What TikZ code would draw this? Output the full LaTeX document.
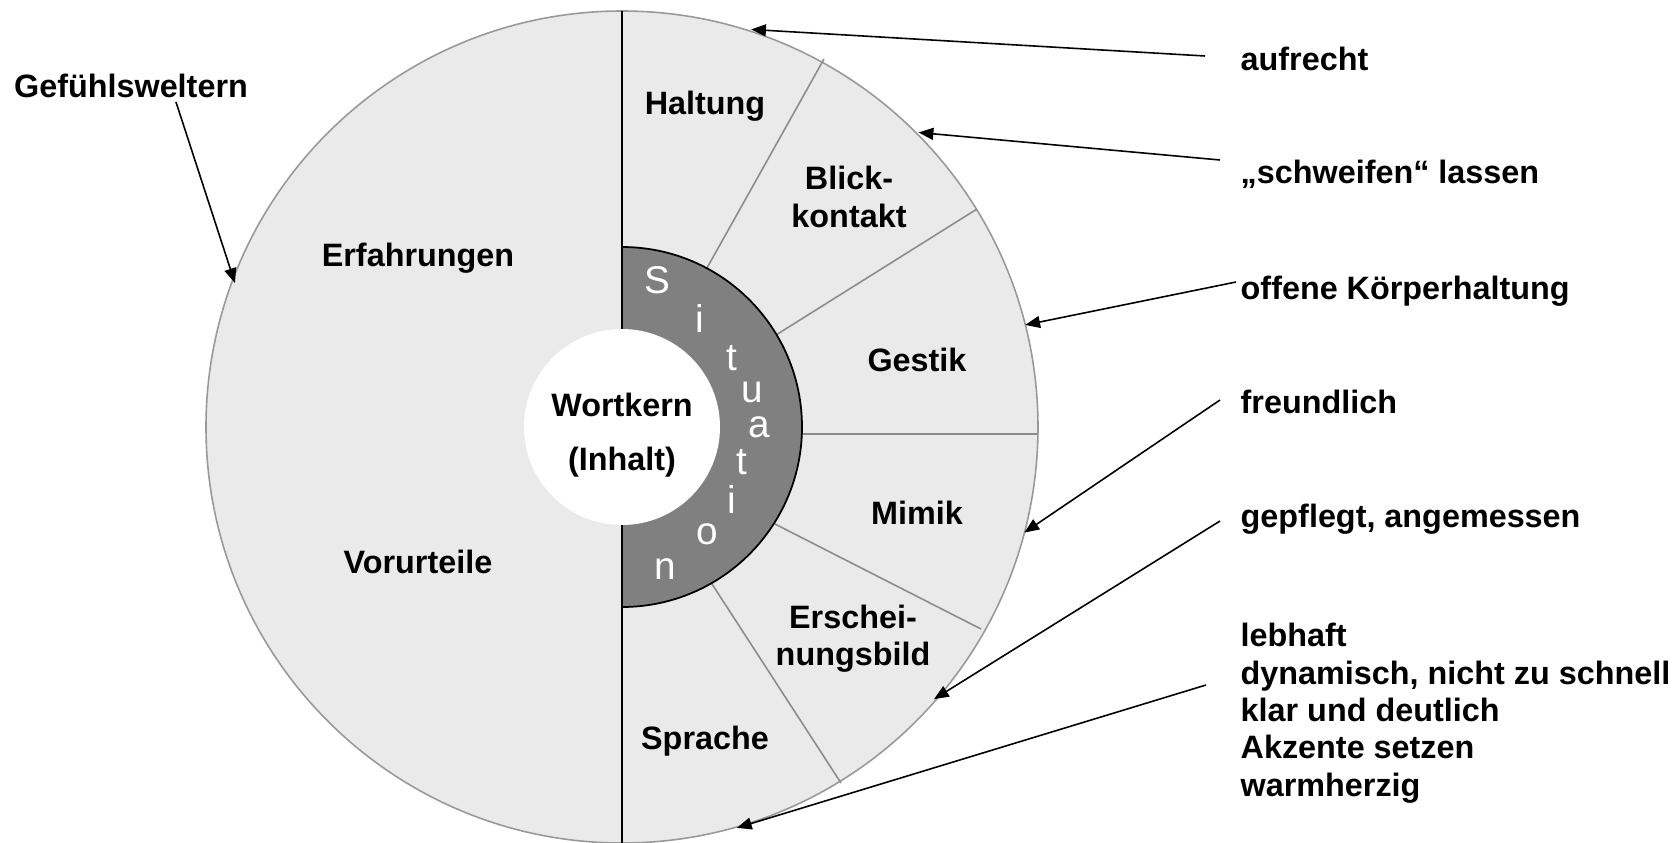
\documentclass[tikz,border=0pt]{standalone}
\usepackage{fontspec}
\setmainfont{Liberation Sans}
\usepackage{tikz}
\usetikzlibrary{arrows.meta}
\definecolor{ringfill}{HTML}{EAEAEA}
\definecolor{ringline}{HTML}{999999}
\definecolor{sitfill}{HTML}{808080}
\definecolor{spokeline}{HTML}{8C8C8C}

\begin{document}
\begin{tikzpicture}[x=0.01cm, y=0.01cm,
  lbl/.style={font=\fontsize{9.2}{10.6}\selectfont\bfseries, inner sep=0pt, align=center},
  note/.style={lbl, anchor=base west, align=left},
  sit/.style={font=\fontsize{11}{12}\selectfont, text=white, inner sep=0pt, anchor=base},
  arr/.style={-{Triangle[length=4.2pt, width=3.4pt]}, line width=0.45pt},
  spoke/.style={draw=spokeline, line width=0.45pt}]
\useasboundingbox (-622,427) rectangle (1051,-415);

% outer ring
\draw[ringline, fill=ringfill, line width=0.45pt] (0,0) circle (416);

% spokes of the right half
\draw[spoke] (85,159) -- (202,368);
\draw[spoke] (154,92) -- (355,218);
\draw[spoke] (178,-7) -- (416,-7);
\draw[spoke] (151,-96) -- (359,-202);
\draw[spoke] (90,-157) -- (219,-356);

% middle line
\draw[line width=0.6pt] (0,416) -- (0,-416);

% Situation half ring
\filldraw[fill=sitfill, draw=black, line width=0.5pt] (0,180) arc (90:-90:180) -- cycle;
\foreach \ch/\x/\y [count=\k] in {S/35/134, i/78/95, t/110/57, u/130/25, a/137/-10,
    t/120/-47, i/110/-86, o/85/-117, n/43/-152}
  \node[sit] (sit\k) at (\x,\y) {\ch};

% core
\fill[white] (0,0) circle (98);
\node[lbl] (wort) at (0,22) {Wortkern};
\node[lbl] (inhalt) at (0,-35) {(Inhalt)};

% left half
\node[lbl] (erf) at (-204,169) {Erfahrungen};
\node[lbl] (vor) at (-204,-135) {Vorurteile};
\node[lbl, anchor=base] (gef) at (-491,329) {Gefühlsweltern};

% right half
\node[lbl] (halt) at (83,321) {Haltung};
\node[lbl] (blick) at (227,230) {Blick-\\kontakt};
\node[lbl] (gest) at (295,67) {Gestik};
\node[lbl] (mim) at (295,-86) {Mimik};
\node[lbl] (ersch) at (231,-212) {Erschei-\\nungsbild};
\node[lbl] (spr) at (83,-314) {Sprache};

% notes
\node[note] (auf) at (618,356) {aufrecht};
\node[note] (schw) at (618,243) {„schweifen“ lassen};
\node[note] (off) at (618,128) {offene Körperhaltung};
\node[note] (freu) at (618,14) {freundlich};
\node[note] (gepf) at (618,-100) {gepflegt, angemessen};
\node[note] (leb) at (618,-369) {lebhaft\\dynamisch, nicht zu schnell\\klar und deutlich\\Akzente setzen\\warmherzig};

% arrow tips on the rim
\coordinate (tGef) at (159.6:413);
\coordinate (tAuf) at (72:418);
\coordinate (tSchw) at (44.8:418);
\coordinate (tOff) at (14.2:416);
\coordinate (tFreu) at (-14.7:416);
\coordinate (tGepf) at (-41.1:414);
\coordinate (tLeb) at (-74:417);

\draw[arr] ([shift={(45,-4)}]gef.base) -- (tGef);
\draw[arr] ([shift={(-35,15)}]auf.base west) -- (tAuf);
\draw[arr] ([shift={(-20,24)}]schw.base west) -- (tSchw);
\draw[arr] ([shift={(-4,17)}]off.base west) -- (tOff);
\draw[arr] ([shift={(-20,13)}]freu.base west) -- (tFreu);
\draw[arr] ([shift={(-20,6)}]gepf.base west) -- (tGepf);
\draw[arr] ([shift={(-34,111)}]leb.base west) -- (tLeb);
\end{tikzpicture}
\end{document}
